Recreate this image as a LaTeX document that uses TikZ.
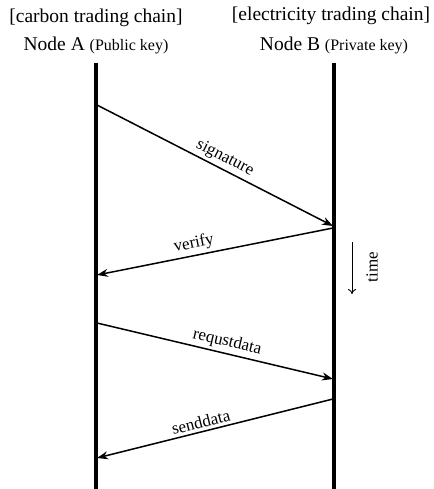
\documentclass[tikz,border=0pt]{standalone}
\usepackage{fontspec}
\setmainfont{Liberation Serif}
\usetikzlibrary{arrows.meta}
\begin{document}
\begin{tikzpicture}[x=1pt,y=-1pt,
  lifeline/.style={line width=4pt},
  msg/.style={line width=1.5pt,-{Stealth[length=11pt,width=8pt]}},
  lbl/.style={font=\fontsize{17}{19}\selectfont,inner sep=3pt},
  head/.style={font=\fontsize{19.5}{22}\selectfont,inner sep=0pt,anchor=center}]
\useasboundingbox (0,0) rectangle (433,489);
% headers
\node[head] (ca) at (96,18) {[carbon trading chain]};
\node[head] (na) at (96,45) {Node A {\fontsize{16}{18}\selectfont(Public key)}};
\node[head] (cb) at (331,16) {[electricity trading chain]};
\node[head] (nb) at (334,45) {Node B {\fontsize{16}{18}\selectfont(Private key)}};
% lifelines
\coordinate (atop) at (96,63);
\coordinate (abot) at (96,489);
\coordinate (btop) at (334,63);
\coordinate (bbot) at (334,489);
\draw[lifeline] (atop) -- (abot);
\draw[lifeline] (btop) -- (bbot);
% message points
\coordinate (s1) at (97,105);
\coordinate (s2) at (333,226);
\coordinate (v1) at (333,228);
\coordinate (v2) at (97,275);
\coordinate (r1) at (97,323);
\coordinate (r2) at (333,379);
\coordinate (d1) at (333,399);
\coordinate (d2) at (97,458);
\draw[msg] (s1) -- node[lbl,sloped,above,pos=0.52] (ls) {signature} (s2);
\draw[msg] (v1) -- node[lbl,sloped,above,pos=0.58] (lv) {verify} (v2);
\draw[msg] (r1) -- node[lbl,sloped,above,pos=0.54] (lr) {requstdata} (r2);
\draw[msg] (d1) -- node[lbl,sloped,above,pos=0.55] (ld) {senddata} (d2);
% time arrow
\coordinate (t1) at (352,242);
\coordinate (t2) at (352,294);
\draw[line width=0.9pt,-{To[length=5pt,width=8pt]}] (t1) -- (t2);
\node[lbl,rotate=90] (time) at (372,267) {time};
\end{tikzpicture}
\end{document}
